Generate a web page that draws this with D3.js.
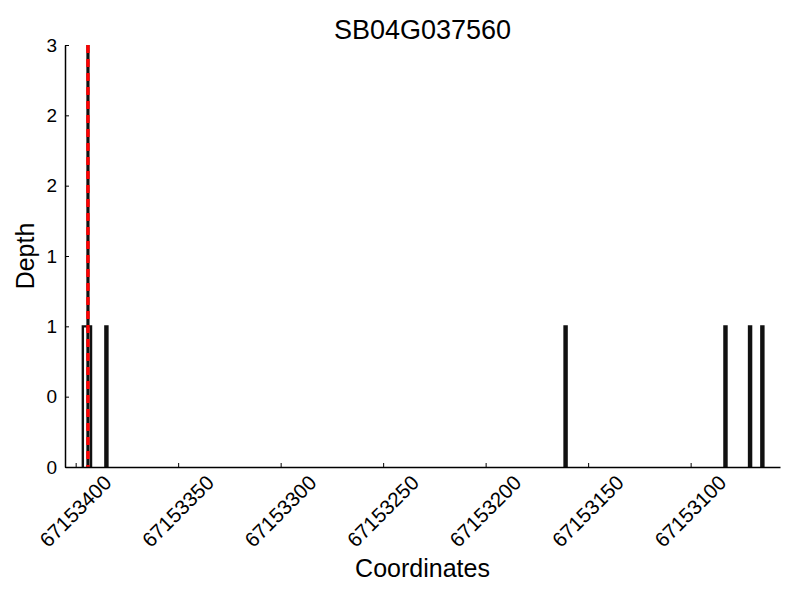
<!DOCTYPE html>
<html>
<head>
<meta charset="utf-8">
<script src="https://cdn.jsdelivr.net/npm/d3@7/dist/d3.min.js"></script>
<style>
  body { margin: 0; background: #fff; }
  text { font-family: "Liberation Sans", Arial, sans-serif; fill: #000; }
</style>
</head>
<body>
<div id="chart"></div>
<script>
// covered bases and their depth
const positions = [67153396, 67153395, 67153394, 67153393, 67153385, 67153161, 67153083, 67153071, 67153065]
const depths = [1, 1, 1, 1, 1, 1, 1, 1, 1]

const markerPos = 67153394   // dashed marker line
const xTicks = [67153400, 67153350, 67153300, 67153250, 67153200, 67153150, 67153100]
const yTicks = [0, 0.5, 1, 1.5, 2, 2.5, 3]
const yTickLabels = ["0", "0", "1", "1", "2", "2", "3"]
const title = "SB04G037560"

const width = 800, height = 600
const margin = {top: 45, right: 20, bottom: 133, left: 65}

const svg = d3.select("#chart").append("svg")
  .attr("width", width)
  .attr("height", height)

// x axis runs right-to-left (genomic coordinates descending)
const x = d3.scaleLinear()
  .domain([67153405.2, 67153056.4])
  .range([margin.left, width - margin.right])

const y = d3.scaleLinear()
  .domain([0, 3])
  .range([height - margin.bottom, margin.top])

// build step outline from runs of consecutive positions
const runs = []
positions.forEach((p, i) => {
  const last = runs[runs.length - 1]
  if (last && last.end - 1 === p && last.depth === depths[i]) {
    last.end = p
  } else {
    runs.push({start: p, end: p, depth: depths[i]})
  }
})

const line = d3.line().x(d => x(d[0])).y(d => y(d[1]))

svg.append("g")
  .selectAll("path")
  .data(runs)
  .join("path")
    .attr("d", r => line([
      [r.start + 0.5, 0], [r.start + 0.5, r.depth],
      [r.end - 0.5, r.depth], [r.end - 0.5, 0]
    ]))
    .attr("fill", "none")
    .attr("stroke", "#111")
    .attr("stroke-width", 2.4)

// marker line: black with red dashes on top
svg.append("line")
  .attr("x1", x(markerPos)).attr("x2", x(markerPos))
  .attr("y1", y(0)).attr("y2", y(3))
  .attr("stroke", "#111")
  .attr("stroke-width", 3.2)
svg.append("line")
  .attr("x1", x(markerPos)).attr("x2", x(markerPos))
  .attr("y1", y(3)).attr("y2", y(0))
  .attr("stroke", "#ff0000")
  .attr("stroke-width", 3.4)
  .attr("stroke-dasharray", "8,6")

// x axis
const xAxis = svg.append("g")
  .attr("transform", `translate(0, ${y(0)})`)
  .call(d3.axisBottom(x).tickValues(xTicks).tickSizeInner(-4).tickSizeOuter(0).tickFormat(d3.format("d")))
xAxis.select(".domain").attr("stroke", "#000").attr("stroke-width", 1.5)
xAxis.selectAll(".tick line").attr("stroke", "#000")
xAxis.selectAll(".tick text")
  .attr("y", 0).attr("dy", null)
  .attr("text-anchor", "middle")
  .attr("dominant-baseline", "central")
  .attr("transform", "translate(-1, 44) rotate(-45)")
  .style("font-size", "20.5px")

// y axis
const yAxis = svg.append("g")
  .attr("transform", `translate(${margin.left}, 0)`)
  .call(d3.axisLeft(y).tickValues(yTicks).tickSizeInner(-4).tickSizeOuter(0)
    .tickFormat((d, i) => yTickLabels[i]))
yAxis.select(".domain").attr("stroke", "#000").attr("stroke-width", 1.5)
yAxis.selectAll(".tick line").attr("stroke", "#000")
yAxis.selectAll(".tick text")
  .attr("x", -8)
  .style("font-size", "19px")

// labels
svg.append("text")
  .attr("x", (margin.left + width - margin.right) / 2)
  .attr("y", 39)
  .attr("text-anchor", "middle")
  .style("font-size", "27px")
  .text(title)

svg.append("text")
  .attr("x", (margin.left + width - margin.right) / 2)
  .attr("y", 577)
  .attr("text-anchor", "middle")
  .style("font-size", "25px")
  .text("Coordinates")

svg.append("text")
  .attr("transform", `translate(34, ${(margin.top + height - margin.bottom) / 2}) rotate(-90)`)
  .attr("text-anchor", "middle")
  .style("font-size", "25px")
  .text("Depth")
</script>
</body>
</html>
